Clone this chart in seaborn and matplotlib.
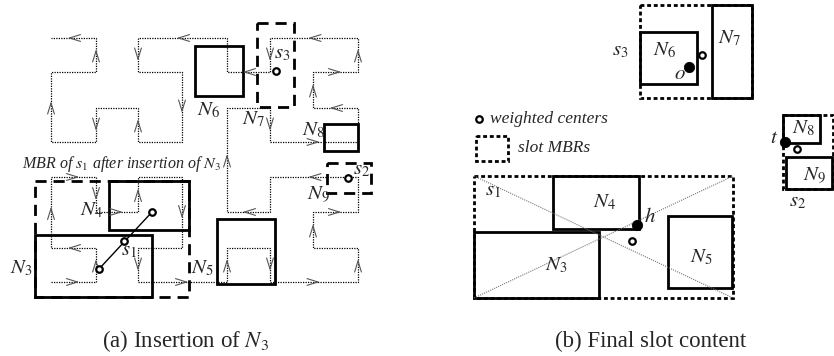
import numpy as np
import pandas as pd
import matplotlib
matplotlib.use('Agg')
import matplotlib.pyplot as plt
from matplotlib.patches import Rectangle
import seaborn as sns

sns.set_theme(style='white')
plt.rcParams['font.family'] = ['Liberation Serif', 'DejaVu Serif']
plt.rcParams['mathtext.fontset'] = 'stix'

# ---- (a) space filling curve over the 8x8 grid ----
grid_x = [51, 96, 138, 182, 227, 270, 313, 358]
grid_y = [38, 72, 108, 142, 177, 212, 248, 282]
curve_cols = [0, 1, 1, 0, 0, 1, 1, 2, 2, 3, 3, 2, 2, 4, 4, 5, 5, 7, 7, 6, 6, 7, 7, 5, 5, 4,
              4, 5, 5, 7, 7, 6, 6, 7, 7, 5, 5, 4, 4, 2, 2, 3, 3, 2, 2, 1, 1, 0, 0, 1, 1, 0]
curve_rows = [7, 7, 6, 6, 4, 4, 5, 5, 4, 4, 6, 6, 7, 7, 6, 6, 7, 7, 6, 6, 5, 5, 4, 4, 5, 5,
              2, 2, 3, 3, 2, 2, 1, 1, 0, 0, 1, 1, 0, 0, 1, 1, 3, 3, 2, 2, 3, 3, 1, 1, 0, 0]
# runs (index of start corner) drawn without a direction arrow
runs_without_arrow = [8, 10, 14, 18, 21, 23, 26, 29, 37, 40, 42, 44, 46, 48]

# (a) node MBRs: name, x0, y0, x1, y1
a_nodes = ['N3', 'N4', 'N5', 'N6', 'N8']
a_x0 = [35, 109, 217, 195, 324]
a_y0 = [235, 181, 219, 46, 124]
a_x1 = [152, 189, 275, 243, 358]
a_y1 = [297, 230, 284, 96, 151]
# (a) slot MBRs
a_slots = ['s1', 's2', 's3']
a_slot_x0 = [35, 327, 257]
a_slot_y0 = [181, 163, 23]
a_slot_x1 = [189, 371, 294]
a_slot_y1 = [297, 193, 107]
# (a) weighted centers
a_center_x = [99, 152, 124, 348, 276]
a_center_y = [269, 212, 241, 178, 71]

# ---- (b) final slot content ----
b_nodes = ['N3', 'N4', 'N5', 'N6', 'N7', 'N8', 'N9']
b_x0 = [474, 553, 668, 640, 712, 783, 786]
b_y0 = [232, 176, 216, 32, 5, 115, 157]
b_x1 = [599, 639, 732, 697, 752, 820, 832]
b_y1 = [298, 229, 288, 84, 98, 143, 189]
b_slots = ['s1', 's2', 's3']
b_slot_x0 = [474, 783, 640]
b_slot_y0 = [176, 115, 5]
b_slot_x1 = [733, 833, 752]
b_slot_y1 = [298, 189, 98]
b_center_x = [632, 797, 702]
b_center_y = [241, 149, 55]
b_query_x = [637, 785, 689]
b_query_y = [225, 142, 67]
b_query_names = ['h', 't', 'o']

fig = plt.figure(figsize=(8.34, 3.56), dpi=100)
ax = fig.add_axes([0, 0, 1, 1])
ax.set_xlim(0, 834)
ax.set_ylim(356, 0)
ax.axis('off')

# curve
path = pd.DataFrame({'x': [grid_x[c] for c in curve_cols],
                     'y': [grid_y[r] for r in curve_rows],
                     'order': range(len(curve_cols))})
sns.lineplot(data=path, x='x', y='y', sort=False, estimator=None, ax=ax,
             color='black', lw=0.9, linestyle=(0, (1, 1)))

for i in range(len(curve_cols) - 1):
    if i in runs_without_arrow:
        continue
    p0 = np.array([grid_x[curve_cols[i]], grid_y[curve_rows[i]]], float)
    p1 = np.array([grid_x[curve_cols[i + 1]], grid_y[curve_rows[i + 1]]], float)
    d = (p1 - p0) / np.linalg.norm(p1 - p0)
    n = np.array([-d[1], d[0]])
    m = (p0 + p1) / 2
    tip = m + d * 4
    for s in (1, -1):
        back = m - d * 7 + n * 3.4 * s
        ax.plot([back[0], tip[0]], [back[1], tip[1]], color='#555555', lw=0.8)

for x0, y0, x1, y1 in zip(a_x0, a_y0, a_x1, a_y1):
    ax.add_patch(Rectangle((x0, y0), x1 - x0, y1 - y0, fill=False, ec='black', lw=2))
for x0, y0, x1, y1 in zip(a_slot_x0, a_slot_y0, a_slot_x1, a_slot_y1):
    ax.add_patch(Rectangle((x0, y0), x1 - x0, y1 - y0, fill=False, ec='black', lw=2,
                           linestyle=(0, (4, 2.5))))

ax.plot(a_center_x[:2], a_center_y[:2], color='black', lw=1)
sns.scatterplot(x=a_center_x, y=a_center_y, ax=ax, marker='o', s=22,
                facecolor='white', edgecolor='black', linewidth=1.6, zorder=5)

lab = dict(fontsize=15, style='italic', va='baseline', ha='left')
ax.text(197, 115, '$N_6$', **lab)
ax.text(242, 124, '$N_7$', **lab)
ax.text(302, 135, '$N_8$', **lab)
ax.text(307, 199, '$N_9$', **lab)
ax.text(80, 215, '$N_4$', **lab)
ax.text(10, 273, '$N_3$', **lab)
ax.text(191, 273, '$N_5$', **lab)
ax.text(274, 58, '$s_3$', **lab)
ax.text(353, 174, '$s_2$', **lab)
ax.text(121, 255, '$s_1$', **lab)
ax.text(22, 168, 'MBR of $s_1$ after insertion of $N_3$', fontsize=11.5,
        style='italic', va='baseline', ha='left')

# (b)
for x0, y0, x1, y1 in zip(b_slot_x0, b_slot_y0, b_slot_x1, b_slot_y1):
    ax.add_patch(Rectangle((x0, y0), x1 - x0, y1 - y0, fill=False, ec='black', lw=2,
                           linestyle=(0, (1.4, 1))))
for x0, y0, x1, y1 in zip(b_x0, b_y0, b_x1, b_y1):
    ax.add_patch(Rectangle((x0, y0), x1 - x0, y1 - y0, fill=False, ec='black', lw=2))

diag = pd.DataFrame({'x': [b_slot_x0[0], b_slot_x1[0], b_slot_x0[0], b_slot_x1[0]],
                     'y': [b_slot_y0[0], b_slot_y1[0], b_slot_y1[0], b_slot_y0[0]],
                     'd': ['a', 'a', 'b', 'b']})
for _, g in diag.groupby('d'):
    ax.plot(g['x'], g['y'], color='#777777', lw=0.8, linestyle=(0, (1, 1)))

sns.scatterplot(x=b_center_x, y=b_center_y, ax=ax, marker='o', s=22,
                facecolor='white', edgecolor='black', linewidth=1.6, zorder=5)
sns.scatterplot(x=b_query_x, y=b_query_y, ax=ax, marker='o', s=55,
                color='black', edgecolor='black', zorder=5)

ax.text(612, 55, '$s_3$', **lab)
ax.text(653, 55, '$N_6$', **lab)
ax.text(718, 43, '$N_7$', **lab)
ax.text(674, 79, '$o$', **lab)
ax.text(770, 143, '$t$', **lab)
ax.text(792, 133, '$N_8$', **lab)
ax.text(803, 180, '$N_9$', **lab)
ax.text(789, 206, '$s_2$', **lab)
ax.text(485, 195, '$s_1$', **lab)
ax.text(593, 207, '$N_4$', **lab)
ax.text(545, 270, '$N_3$', **lab)
ax.text(690, 262, '$N_5$', **lab)
ax.text(644, 222, '$h$', **lab)

# legend
sns.scatterplot(x=[479], y=[119], ax=ax, marker='o', s=22,
                facecolor='white', edgecolor='black', linewidth=1.6, zorder=5)
ax.text(490, 123, 'weighted centers', fontsize=12.5, style='italic', va='baseline')
ax.add_patch(Rectangle((476, 136), 32, 25, fill=False, ec='black', lw=2,
                       linestyle=(0, (1.4, 1))))
ax.text(518, 152, 'slot MBRs', fontsize=12.5, style='italic', va='baseline')

ax.text(102, 347, '(a) Insertion of $N_3$', fontsize=16.5, va='baseline')
ax.text(555, 347, '(b) Final slot content', fontsize=16.5, va='baseline')

if ax.get_legend() is not None:
    ax.get_legend().remove()
fig.savefig('out.png', dpi=100)
